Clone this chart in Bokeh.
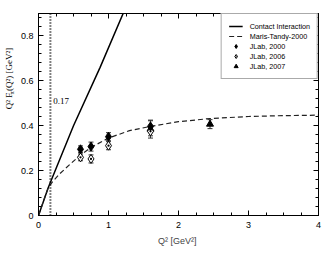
import numpy as np
from bokeh.plotting import figure
from bokeh.layouts import row
from bokeh.models import (ColumnDataSource, Whisker, TeeHead, Label, Legend, LegendItem,
                          LinearAxis, Span, FixedTicker, Range1d)
from bokeh.embed import file_html
from bokeh.resources import INLINE

# ---- data ----
ci_q2 = [0.0, 0.14, 0.50, 0.88, 1.25]
ci_f = [0.0, 0.125, 0.40, 0.66, 0.93]

mt_q2 = [0.0, 0.05, 0.10, 0.14, 0.20, 0.30, 0.45, 0.60, 0.76, 1.00, 1.30, 1.60, 2.00, 2.45, 3.00, 3.50, 4.00]
mt_f = [0.0, 0.045, 0.09, 0.125, 0.15, 0.185, 0.228, 0.27, 0.305, 0.345, 0.378, 0.397, 0.418, 0.432, 0.441, 0.445, 0.447]

j2000_q2 = [0.60, 0.75, 1.00, 1.60]
j2000_f = [0.295, 0.307, 0.351, 0.397]
j2000_e = [0.015, 0.02, 0.018, 0.025]

j2006_q2 = [0.60, 0.75, 1.00, 1.60]
j2006_f = [0.259, 0.252, 0.311, 0.375]
j2006_e = [0.015, 0.018, 0.018, 0.02]

j2007_q2 = [1.60, 2.45]
j2007_f = [0.385, 0.407]
j2007_e = [0.04, 0.02]

cut_q2 = 0.17
x_ticks = [0, 1, 2, 3, 4]
y_ticks = [0, 0.2, 0.4, 0.6, 0.8]
y_tick_labels = {0: "0", 0.2: "0.2", 0.4: "0.4", 0.6: "0.6", 0.8: "0.8"}

# y-axis title pieces: "Q² F", subscript "π", "(Q²)  [GeV²]"
ytitle_parts = ["Q\u00b2 F", "\u03c0", "(Q\u00b2)  [GeV\u00b2]"]

FONT = "Liberation Sans"

FRAME_W, FRAME_H = 280, 202
B_TOP, B_BOT = 13, 32
TOTAL_H = FRAME_H + B_TOP + B_BOT
YMAX = 0.9

p = figure(frame_width=FRAME_W, frame_height=FRAME_H, output_backend="svg", toolbar_location=None,
           x_range=Range1d(0, 4), y_range=Range1d(0, YMAX), title=None,
           min_border_left=22, min_border_right=4, min_border_top=B_TOP, min_border_bottom=B_BOT)
p.xgrid.visible = False
p.ygrid.visible = False
p.outline_line_color = "black"
p.background_fill_color = "white"

def style_axis(ax, labels=True):
    ax.axis_line_color = "black"
    ax.major_tick_in = 5
    ax.major_tick_out = 0
    ax.minor_tick_in = 3
    ax.minor_tick_out = 0
    ax.major_tick_line_color = "black"
    ax.minor_tick_line_color = "black"
    ax.major_label_text_font = FONT
    ax.major_label_text_font_size = "9px" if labels else "0px"
    if not labels:
        ax.major_label_standoff = 0
    ax.major_label_text_color = "black" if labels else None

p.xaxis.ticker = FixedTicker(ticks=x_ticks, minor_ticks=list(np.arange(0, 4.01, 0.25)))
p.yaxis.ticker = FixedTicker(ticks=y_ticks, minor_ticks=list(np.arange(0, 0.901, 0.04)))
p.yaxis.major_label_overrides = y_tick_labels
style_axis(p.xaxis[0])
style_axis(p.yaxis[0])
p.xaxis.major_label_standoff = 6
p.yaxis.major_label_standoff = 5
p.xaxis.axis_label = "Q\u00b2  [GeV\u00b2]"
p.xaxis.axis_label_text_font = FONT
p.xaxis.axis_label_text_font_size = "9px"
p.xaxis.axis_label_text_font_style = "normal"
p.xaxis.axis_label_standoff = 5

top = LinearAxis(ticker=FixedTicker(ticks=x_ticks, minor_ticks=list(np.arange(0, 4.01, 0.25))))
style_axis(top, labels=False)
p.add_layout(top, "above")
right = LinearAxis(ticker=FixedTicker(ticks=y_ticks, minor_ticks=list(np.arange(0, 0.901, 0.04))))
style_axis(right, labels=False)
p.add_layout(right, "right")

# dotted cut line
p.add_layout(Span(location=cut_q2, dimension="height", line_color="black",
                  line_width=2, line_dash="1 2"))
p.add_layout(Label(x=cut_q2 + 0.04, y=0.51, text=f"{cut_q2}", text_font="Liberation Serif",
                   text_font_size="9px", text_baseline="middle", text_color="black"))

r_ci = p.line(ci_q2, ci_f, line_color="black", line_width=1.5)
r_mt = p.line(mt_q2, mt_f, line_color="#222222", line_width=1.2, line_dash="5 3")

def errbars(q, f, e):
    src = ColumnDataSource(dict(x=q, lo=[a - b for a, b in zip(f, e)], hi=[a + b for a, b in zip(f, e)]))
    w = Whisker(source=src, base="x", lower="lo", upper="hi", line_color="#333333", line_width=1,
                upper_head=TeeHead(size=5, line_color="#333333", line_width=1),
                lower_head=TeeHead(size=5, line_color="#333333", line_width=1))
    p.add_layout(w)

errbars(j2000_q2, j2000_f, j2000_e)
errbars(j2006_q2, j2006_f, j2006_e)
errbars(j2007_q2, j2007_f, j2007_e)

r_07 = p.scatter(j2007_q2, j2007_f, marker="triangle", size=7, fill_color="black", line_color="black")
r_06 = p.scatter(j2006_q2, j2006_f, marker="diamond_dot", size=9, fill_color="white", line_color="black", line_width=1)
r_00 = p.scatter(j2000_q2, j2000_f, marker="diamond", size=9, fill_color="black", line_color="black")

legend = Legend(items=[
    LegendItem(label="Contact Interaction", renderers=[r_ci]),
    LegendItem(label="Maris-Tandy-2000", renderers=[r_mt]),
    LegendItem(label="JLab, 2000", renderers=[r_00]),
    LegendItem(label="JLab, 2006", renderers=[r_06]),
    LegendItem(label="JLab, 2007", renderers=[r_07]),
], location="top_right")
legend.margin = 0
legend.padding = 7
legend.spacing = 0
legend.glyph_width = 14
legend.glyph_height = 10
legend.label_height = 10
legend.label_standoff = 7
legend.label_text_font = FONT
legend.label_text_font_size = "7.2px"
legend.label_text_color = "black"
legend.border_line_color = "#555555"
legend.border_line_width = 1
legend.background_fill_alpha = 1
p.add_layout(legend)

# ---- narrow side figure holding the rotated y-axis title ----
per_px = YMAX / FRAME_H
side = figure(width=16, height=TOTAL_H, output_backend="svg", toolbar_location=None, title=None,
              x_range=Range1d(0, 1), y_range=Range1d(-B_BOT * per_px, YMAX + B_TOP * per_px),
              x_axis_type=None, y_axis_type=None, min_border=0)
side.outline_line_color = None
side.xgrid.visible = False
side.ygrid.visible = False
side.background_fill_color = "white"
side.border_fill_color = "white"

tx = 0.55
y0 = 0.434
side.text(x=[tx], y=[y0], text=[ytitle_parts[0]], angle=np.pi / 2, text_font=FONT,
          text_font_size="9px", text_baseline="middle", text_align="left", text_color="black")
side.text(x=[tx + 0.16], y=[y0 + 0.081], text=[ytitle_parts[1]], angle=np.pi / 2, text_font=FONT,
          text_font_size="6.5px", text_baseline="middle", text_align="left", text_color="black")
side.text(x=[tx], y=[y0 + 0.1], text=[ytitle_parts[2]], angle=np.pi / 2, text_font=FONT,
          text_font_size="9px", text_baseline="middle", text_align="left", text_color="black")

layout = row(side, p, spacing=0)
open("out.html", "w").write(file_html(layout, INLINE))
